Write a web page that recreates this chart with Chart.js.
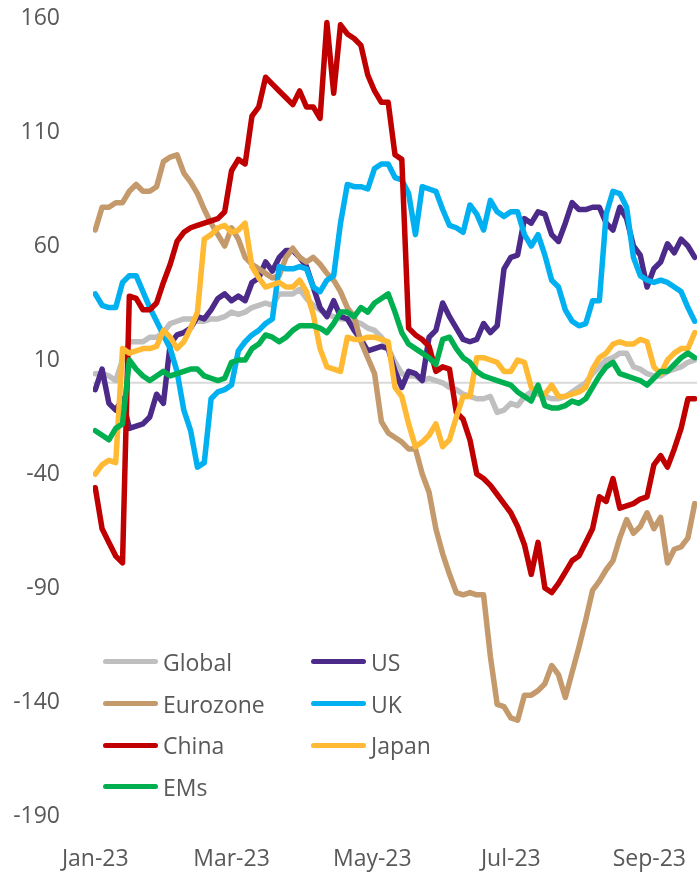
<!DOCTYPE html>
<html>
<head>
<meta charset="utf-8">
<script src="https://cdn.jsdelivr.net/npm/chart.js@4.4.0/dist/chart.umd.min.js"></script>
<style>
  html, body { margin: 0; padding: 0; background: #fff; overflow: hidden; }
  #wrap { position: relative; width: 697px; height: 879px; }
  #canvas { display: block; }
  #legend {
    position: absolute; left: 103px; top: 641px;
    display: grid; grid-template-columns: 208px 200px;
    font-family: "Open Sans", sans-serif; font-size: 23px; color: #595959;
  }
  .item { display: flex; align-items: center; height: 41.7px; }
  .swatch { width: 55px; height: 5px; border-radius: 3px; margin-right: 5px; }
</style>
</head>
<body>
<div id="wrap">
  <canvas id="canvas" width="697" height="879"></canvas>
  <div id="legend"></div>
</div>
<script>
// x = days since 1 Jan 2023, sampled every 3 days
var days = [];
for (var d = 0; d <= 264; d += 3) days.push(d);

var tickDays = [0, 60, 122, 183, 244];
var tickLabels = ['Jan-23', 'Mar-23', 'May-23', 'Jul-23', 'Sep-23'];

var globalIdx = [4,4,3,1,10,18,18,18,20,20, 22,26,27,28,28,27,27,28,28,29,
  31,30,31,33,34,35,34,39,39,39, 41,37,34,32,30,29,28,28,27,26,
  24,23,20,15,9,4,3,3,1,2, 1,0,-2,-3,-5,-6,-7,-7,-6,-13,
  -12,-9,-10,-6,-4,-5,-6,-7,-7,-6, -4,-2,0,4,7,10,11,13,13,7,
  6,4,3,3,5,6,7,9,10];
var us = [-3,6,-9,-12,-7,-20,-19,-18,-15,-5, -9,17,21,22,24,29,28,32,37,39,
  36,38,36,44,46,53,49,55,58,58, 55,51,42,33,29,36,29,28,23,19,
  14,15,16,15,5,-2,5,4,1,20, 23,35,29,24,19,18,19,26,22,25,
  50,55,56,72,70,75,74,65,62,70, 79,76,76,77,77,70,67,77,72,60,
  56,42,50,53,61,57,63,60,55];
var eurozone = [67,77,77,79,79,84,87,84,84,86, 97,99,100,92,88,83,76,70,65,60,
  68,63,55,52,50,48,46,47,55,59, 55,53,55,52,48,45,40,33,29,18,
  11,4,-17,-22,-24,-26,-29,-29,-40,-48, -64,-75,-84,-92,-93,-92,-93,-93,-120,-141,
  -142,-147,-148,-137,-137,-135,-132,-124,-128,-138, -127,-116,-104,-91,-87,-82,-78,-68,-60,-66,
  -63,-57,-64,-59,-79,-73,-72,-68,-53];
var uk = [39,34,33,33,44,47,47,40,33,27, 21,15,5,-12,-21,-37,-35,-7,-4,-3,
  -1,14,18,21,23,26,28,51,50,50, 51,50,42,40,45,47,70,87,86,86,
  85,94,96,96,90,89,83,65,86,85, 84,76,69,68,66,78,74,67,80,75,
  73,75,75,65,60,65,56,45,42,32, 27,25,26,36,36,74,84,83,77,55,
  47,45,44,45,44,42,40,33,27];
var china = [-46,-64,-70,-76,-79,38,37,32,32,35, 44,52,62,66,68,69,70,71,72,75,
  93,98,96,117,121,134,131,128,125,122, 128,121,121,116,158,127,157,153,151,148,
  135,128,123,123,100,98,24,21,19,16, 5,7,6,-13,-16,-25,-40,-42,-45,-49,
  -53,-57,-63,-71,-84,-70,-90,-92,-88,-83, -78,-76,-70,-64,-50,-52,-42,-55,-54,-53,
  -51,-50,-36,-32,-37,-29,-20,-7,-7];
var japan = [-40,-36,-34,-35,15,13,14,15,15,16, 23,20,15,18,24,31,63,65,68,69,
  66,67,70,51,46,42,43,44,42,42, 45,40,30,15,7,6,5,20,19,19,
  20,20,19,18,-2,-6,-18,-28,-26,-23, -18,-28,-25,-15,-6,-6,11,11,10,9,
  5,5,10,9,-2,-4,-5,-1,-6,-6, -5,-4,-2,6,11,13,17,18,17,17,
  19,18,7,4,10,13,15,15,22];
var ems = [-21,-23,-25,-20,-18,10,6,3,1,3, 5,3,4,5,6,6,3,2,1,2,
  9,10,10,15,17,21,20,18,20,23, 25,25,25,24,22,26,31,31,29,33,
  31,35,37,39,31,22,17,15,13,11, 8,19,20,15,11,9,5,3,2,1,
  0,-1,-4,-6,-8,-1,-10,-11,-11,-10, -8,-9,-7,-2,3,7,9,4,3,2,
  1,-1,2,5,5,8,11,13,11];

var seriesNames = ['Global', 'US', 'Eurozone', 'UK', 'China', 'Japan', 'EMs'];
var seriesData = [globalIdx, us, eurozone, uk, china, japan, ems];
var seriesColors = ['#bfbfbf', '#4b2a8a', '#c49a6c', '#00b0f0', '#c00000', '#ffb933', '#00b050'];

function toPoints(vals) {
  return days.map(function (d, i) { return { x: d, y: vals[i] }; });
}

var datasets = seriesNames.map(function (name, i) {
  return {
    label: name,
    data: toPoints(seriesData[i]),
    borderColor: seriesColors[i],
    backgroundColor: seriesColors[i],
    order: seriesNames.length - i   // later series sit on top
  };
});

// light line at zero
var zeroLine = {
  id: 'zeroLine',
  beforeDatasetsDraw: function (chart) {
    var ctx = chart.ctx, a = chart.chartArea;
    var yp = chart.scales.y.getPixelForValue(0);
    ctx.save();
    ctx.strokeStyle = '#d9d9d9';
    ctx.lineWidth = 2;
    ctx.beginPath();
    ctx.moveTo(a.left, yp);
    ctx.lineTo(a.right, yp);
    ctx.stroke();
    ctx.restore();
  }
};

var tickFont = { family: 'Open Sans', size: 23 };

var chart = new Chart(document.getElementById('canvas').getContext('2d'), {
  type: 'line',
  data: { datasets: datasets },
  options: {
    responsive: false,
    animation: false,
    layout: { padding: { top: 18, right: 0, bottom: 0, left: 0 } },
    plugins: { legend: { display: false }, tooltip: { enabled: false } },
    elements: {
      point: { radius: 0 },
      line: { borderWidth: 5.5, tension: 0, borderJoinStyle: 'round', borderCapStyle: 'round' }
    },
    scales: {
      x: {
        type: 'linear', min: -1, max: 265,
        grid: { display: false, drawTicks: false },
        border: { display: false },
        afterBuildTicks: function (s) { s.ticks = tickDays.map(function (v) { return { value: v }; }); },
        afterFit: function (s) {
          s.height = 63;
          s.paddingLeft = 0; s.paddingRight = 0;
        },
        ticks: {
          autoSkip: false, maxRotation: 0, padding: 30,
          font: tickFont, color: '#595959',
          callback: function (v) { return tickLabels[tickDays.indexOf(v)]; }
        }
      },
      y: {
        min: -190, max: 160,
        grid: { display: false, drawTicks: false },
        border: { display: false },
        afterFit: function (s) {
          s.width = 93;
          s.paddingTop = 0; s.paddingBottom = 0;
        },
        ticks: { stepSize: 50, padding: 33, font: tickFont, color: '#595959' }
      }
    }
  },
  plugins: [zeroLine]
});

// legend in two columns, built from the chart's datasets
var legendEl = document.getElementById('legend');
chart.data.datasets.forEach(function (ds) {
  var item = document.createElement('div');
  item.className = 'item';
  var sw = document.createElement('span');
  sw.className = 'swatch';
  sw.style.background = ds.borderColor;
  var txt = document.createElement('span');
  txt.textContent = ds.label;
  item.appendChild(sw);
  item.appendChild(txt);
  legendEl.appendChild(item);
});
</script>
</body>
</html>
